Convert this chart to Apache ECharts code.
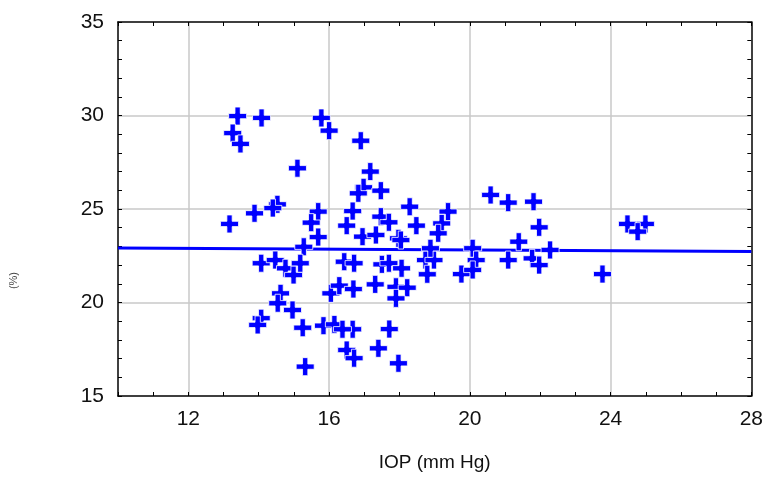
<!DOCTYPE html>
<html><head><meta charset="utf-8">
<script src="https://cdn.jsdelivr.net/npm/echarts@6/dist/echarts.min.js"></script>
<style>html,body{margin:0;padding:0;background:#fff}#c{width:766px;height:483px}</style>
</head><body><div id="c"></div>
<script>
var iopX = [13.40,14.08,13.26,13.48,15.78,16.00,15.10,16.90,17.17,16.98,16.83,17.47,13.17,13.88,14.53,14.40,15.69,15.49,15.69,16.67,16.50,17.47,17.70,18.29,18.48,19.38,19.20,19.10,16.95,17.33,17.97,15.28,14.07,14.47,14.76,14.99,15.18,14.62,14.54,14.96,14.07,13.97,15.25,15.84,15.32,16.05,16.43,16.71,17.50,17.70,18.06,18.74,18.98,18.79,16.29,16.69,17.31,17.90,18.22,17.90,16.15,16.67,16.38,17.71,16.50,16.71,17.40,17.97,20.59,21.09,21.81,21.97,21.39,22.28,20.08,20.18,21.09,21.77,21.97,19.76,20.08,23.77,24.48,24.99,24.77,18.88,18.04];
var valY = [29.97,29.87,29.06,28.48,29.87,29.19,27.18,28.65,27.00,26.16,25.84,25.98,24.20,24.77,25.25,25.05,24.86,24.27,23.50,24.89,24.11,24.59,24.29,25.12,24.11,24.86,24.23,23.70,23.52,23.61,23.43,22.98,22.10,22.27,21.83,21.47,22.10,20.49,19.96,19.60,19.16,18.80,18.65,18.76,16.57,20.49,22.18,22.10,22.04,22.10,21.83,22.27,22.27,21.51,20.90,20.72,20.97,20.84,20.79,20.22,18.83,18.57,18.57,18.58,17.46,17.02,17.55,16.75,25.75,25.34,25.39,24.02,23.25,22.81,22.90,22.27,22.27,22.36,22.00,21.52,21.74,21.52,24.20,24.20,23.79,22.90,23.34];
var fitX = [10, 28];
var fitY = [22.92, 22.73];
var xTicks = [12, 16, 20, 24, 28];
var yTicks = [15, 20, 25, 30, 35];
var xTitle = 'IOP (mm Hg)';
var yTitle = '(%)';

var pts = iopX.map(function(x, i){ return [x, valY[i]]; });
var fit = fitX.map(function(x, i){ return [x, fitY[i]]; });
var plus = 'path://M6,0H11V6H17V11H11V17H6V11H0V6H6Z';
var fontFam = "'Liberation Sans Narrow','Liberation Sans',Arial,sans-serif";
var lineC = '#000';
var gridC = '#c8c8c8';
function ax(extra){
  return Object.assign({
    axisLine:{show:true,onZero:false,lineStyle:{color:lineC,width:1.5}},
    axisTick:{show:true,inside:true,length:4,lineStyle:{color:lineC,width:1}},
    splitLine:{show:false},
    minorSplitLine:{show:false}
  }, extra);
}
var gridLines = xTicks.filter(function(v){return v>10 && v<28;}).map(function(v){return {xAxis:v};})
  .concat(yTicks.filter(function(v){return v>15 && v<35;}).map(function(v){return {yAxis:v};}));
var chart = echarts.init(document.getElementById('c'), null, {renderer:'canvas'});
chart.setOption({
  animation:false,
  backgroundColor:'#fff',
  grid:{left:118,right:12,top:22,bottom:87,containLabel:false},
  xAxis:[
    ax({type:'value',min:10,max:28,interval:2,position:'bottom',
      minorTick:{show:true,splitNumber:2,length:4,lineStyle:{color:lineC,width:1}},
      axisLabel:{show:true,margin:13,fontSize:21,color:'#111',fontFamily:fontFam,
        formatter:function(v){return xTicks.indexOf(v)>=0 ? String(v) : '';}},
      name:xTitle,nameLocation:'middle',nameGap:57,
      nameTextStyle:{fontSize:19,color:'#111',fontFamily:fontFam}}),
    ax({type:'value',min:10,max:28,interval:2,position:'top',
      minorTick:{show:true,splitNumber:2,length:4,lineStyle:{color:lineC,width:1}},
      axisLabel:{show:false}})
  ],
  yAxis:[
    ax({type:'value',min:15,max:35,interval:5,position:'left',
      minorTick:{show:true,splitNumber:5,length:4,lineStyle:{color:lineC,width:1}},
      axisLabel:{show:true,margin:14,fontSize:21,color:'#111',fontFamily:fontFam}}),
    ax({type:'value',min:15,max:35,interval:5,position:'right',
      minorTick:{show:true,splitNumber:5,length:4,lineStyle:{color:lineC,width:1}},
      axisLabel:{show:false}})
  ],
  graphic:[{type:'text',left:8,top:272,rotation:Math.PI/2,
    style:{text:yTitle,fontSize:11,fill:'#444',fontFamily:fontFam}}],
  series:[
    {type:'line',data:[],silent:true,z:0,
      markLine:{silent:true,z:0,symbol:'none',label:{show:false},animation:false,
        lineStyle:{color:gridC,width:1.5,type:'solid'},data:gridLines}},
    {type:'line',data:fit,showSymbol:false,symbol:'none',
      lineStyle:{color:'#0000ff',width:3},z:2},
    {type:'scatter',data:pts,symbol:plus,symbolSize:18,
      itemStyle:{color:'#0000ff',opacity:1,borderColor:'#ffffff',borderWidth:0.8},z:3}
  ]
});
</script></body></html>
